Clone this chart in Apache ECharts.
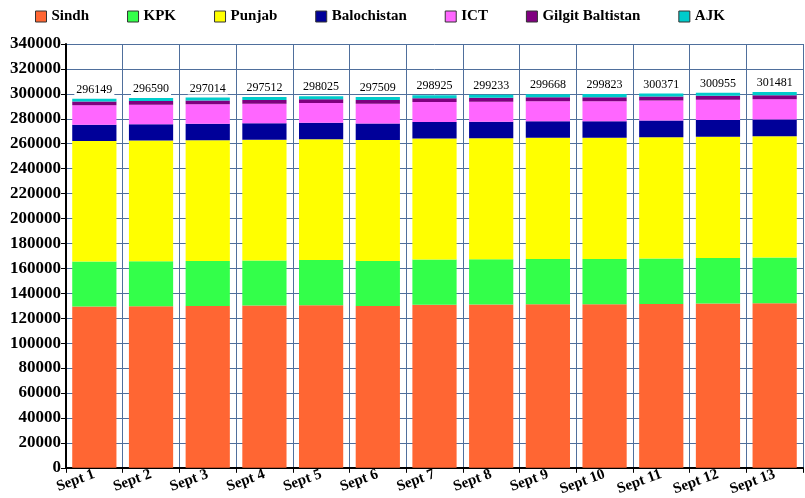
<!DOCTYPE html>
<html>
<head>
<meta charset="utf-8">
<script src="https://cdn.jsdelivr.net/npm/echarts@6/dist/echarts.min.js"></script>
<style>
  html, body { margin: 0; padding: 0; background: #fff; }
  #chart { width: 805px; height: 498px; }
</style>
</head>
<body>
<div id="chart"></div>
<script>
// categories + values
var days = ['Sept 1', 'Sept 2', 'Sept 3', 'Sept 4', 'Sept 5', 'Sept 6', 'Sept 7',
            'Sept 8', 'Sept 9', 'Sept 10', 'Sept 11', 'Sept 12', 'Sept 13'];
var totals = [296149, 296590, 297014, 297512, 298025, 297509, 298925,
              299233, 299668, 299823, 300371, 300955, 301481];

var sindh = [129499, 129710, 129914, 130182, 130465, 129719, 130915, 130993, 131208, 131133, 131451, 131815, 132111];
var kpk = [36000, 36050, 36100, 36150, 36200, 36250, 36300, 36350, 36400, 36450, 36500, 36550, 36600];
var punjab = [96700, 96750, 96800, 96850, 96900, 96950, 97000, 97050, 97100, 97150, 97200, 97250, 97300];
var balochistan = [13100, 13130, 13160, 13190, 13220, 13250, 13280, 13310, 13340, 13370, 13400, 13430, 13460];
var ict = [15600, 15650, 15700, 15750, 15800, 15850, 15900, 15950, 16000, 16050, 16100, 16150, 16200];
var gb = [2950, 2980, 3000, 3030, 3060, 3090, 3110, 3140, 3160, 3190, 3220, 3240, 3270];
var ajk = [2300, 2320, 2340, 2360, 2380, 2400, 2420, 2440, 2460, 2480, 2500, 2520, 2540];

var serif = '"Liberation Serif", "DejaVu Serif", serif';
var gridColor = '#4f6f9c';

function bar(name, data, color) {
  return {
    name: name,
    type: 'bar',
    stack: 'total',
    data: data,
    barCategoryGap: '22%',
    itemStyle: { color: color },
    emphasis: { disabled: true }
  };
}

var series = [
  bar('Sindh', sindh, '#ff6633'),
  bar('KPK', kpk, '#33ff4a'),
  bar('Punjab', punjab, '#ffff00'),
  bar('Balochistan', balochistan, '#000099'),
  bar('ICT', ict, '#ff66ff'),
  bar('Gilgit Baltistan', gb, '#800080'),
  bar('AJK', ajk, '#00cccc')
];
// totals above each bar
series[6].label = {
  show: true,
  position: 'top',
  distance: 3,
  formatter: function (p) { return totals[p.dataIndex]; },
  fontFamily: serif,
  fontSize: 12,
  color: '#000',
  backgroundColor: '#fff',
  padding: [0, 2]
};

var chart = echarts.init(document.getElementById('chart'));
chart.setOption({
  animation: false,
  backgroundColor: '#fff',
  legend: {
    top: 4,
    left: 30,
    itemWidth: 11,
    itemHeight: 11,
    itemGap: 38,
    icon: 'rect',
    itemStyle: { borderColor: '#333', borderWidth: 1 },
    textStyle: { fontFamily: serif, fontWeight: 'bold', fontSize: 15, color: '#000' }
  },
  grid: { left: 66, right: 2, top: 44, bottom: 26 },
  xAxis: {
    type: 'category',
    data: days,
    axisLine: { lineStyle: { color: '#000', width: 2 } },
    axisTick: { show: true, interval: 0, length: 5, lineStyle: { color: '#000' } },
    splitLine: { show: true, interval: 0, lineStyle: { color: gridColor, width: 1 } },
    axisLabel: {
      interval: 0,
      rotate: 20,
      margin: 6,
      fontFamily: serif,
      fontWeight: 'bold',
      fontSize: 15,
      color: '#000'
    }
  },
  yAxis: {
    type: 'value',
    min: 0,
    max: 340000,
    interval: 20000,
    axisLine: { show: true, lineStyle: { color: '#000', width: 2 } },
    axisTick: { show: true, length: 5, lineStyle: { color: '#000' } },
    splitLine: { lineStyle: { color: gridColor, width: 1 } },
    axisLabel: {
      margin: 5,
      formatter: function (v) { return String(v); },
      fontFamily: serif,
      fontWeight: 'bold',
      fontSize: 17,
      color: '#000'
    }
  },
  series: series
});
</script>
</body>
</html>
